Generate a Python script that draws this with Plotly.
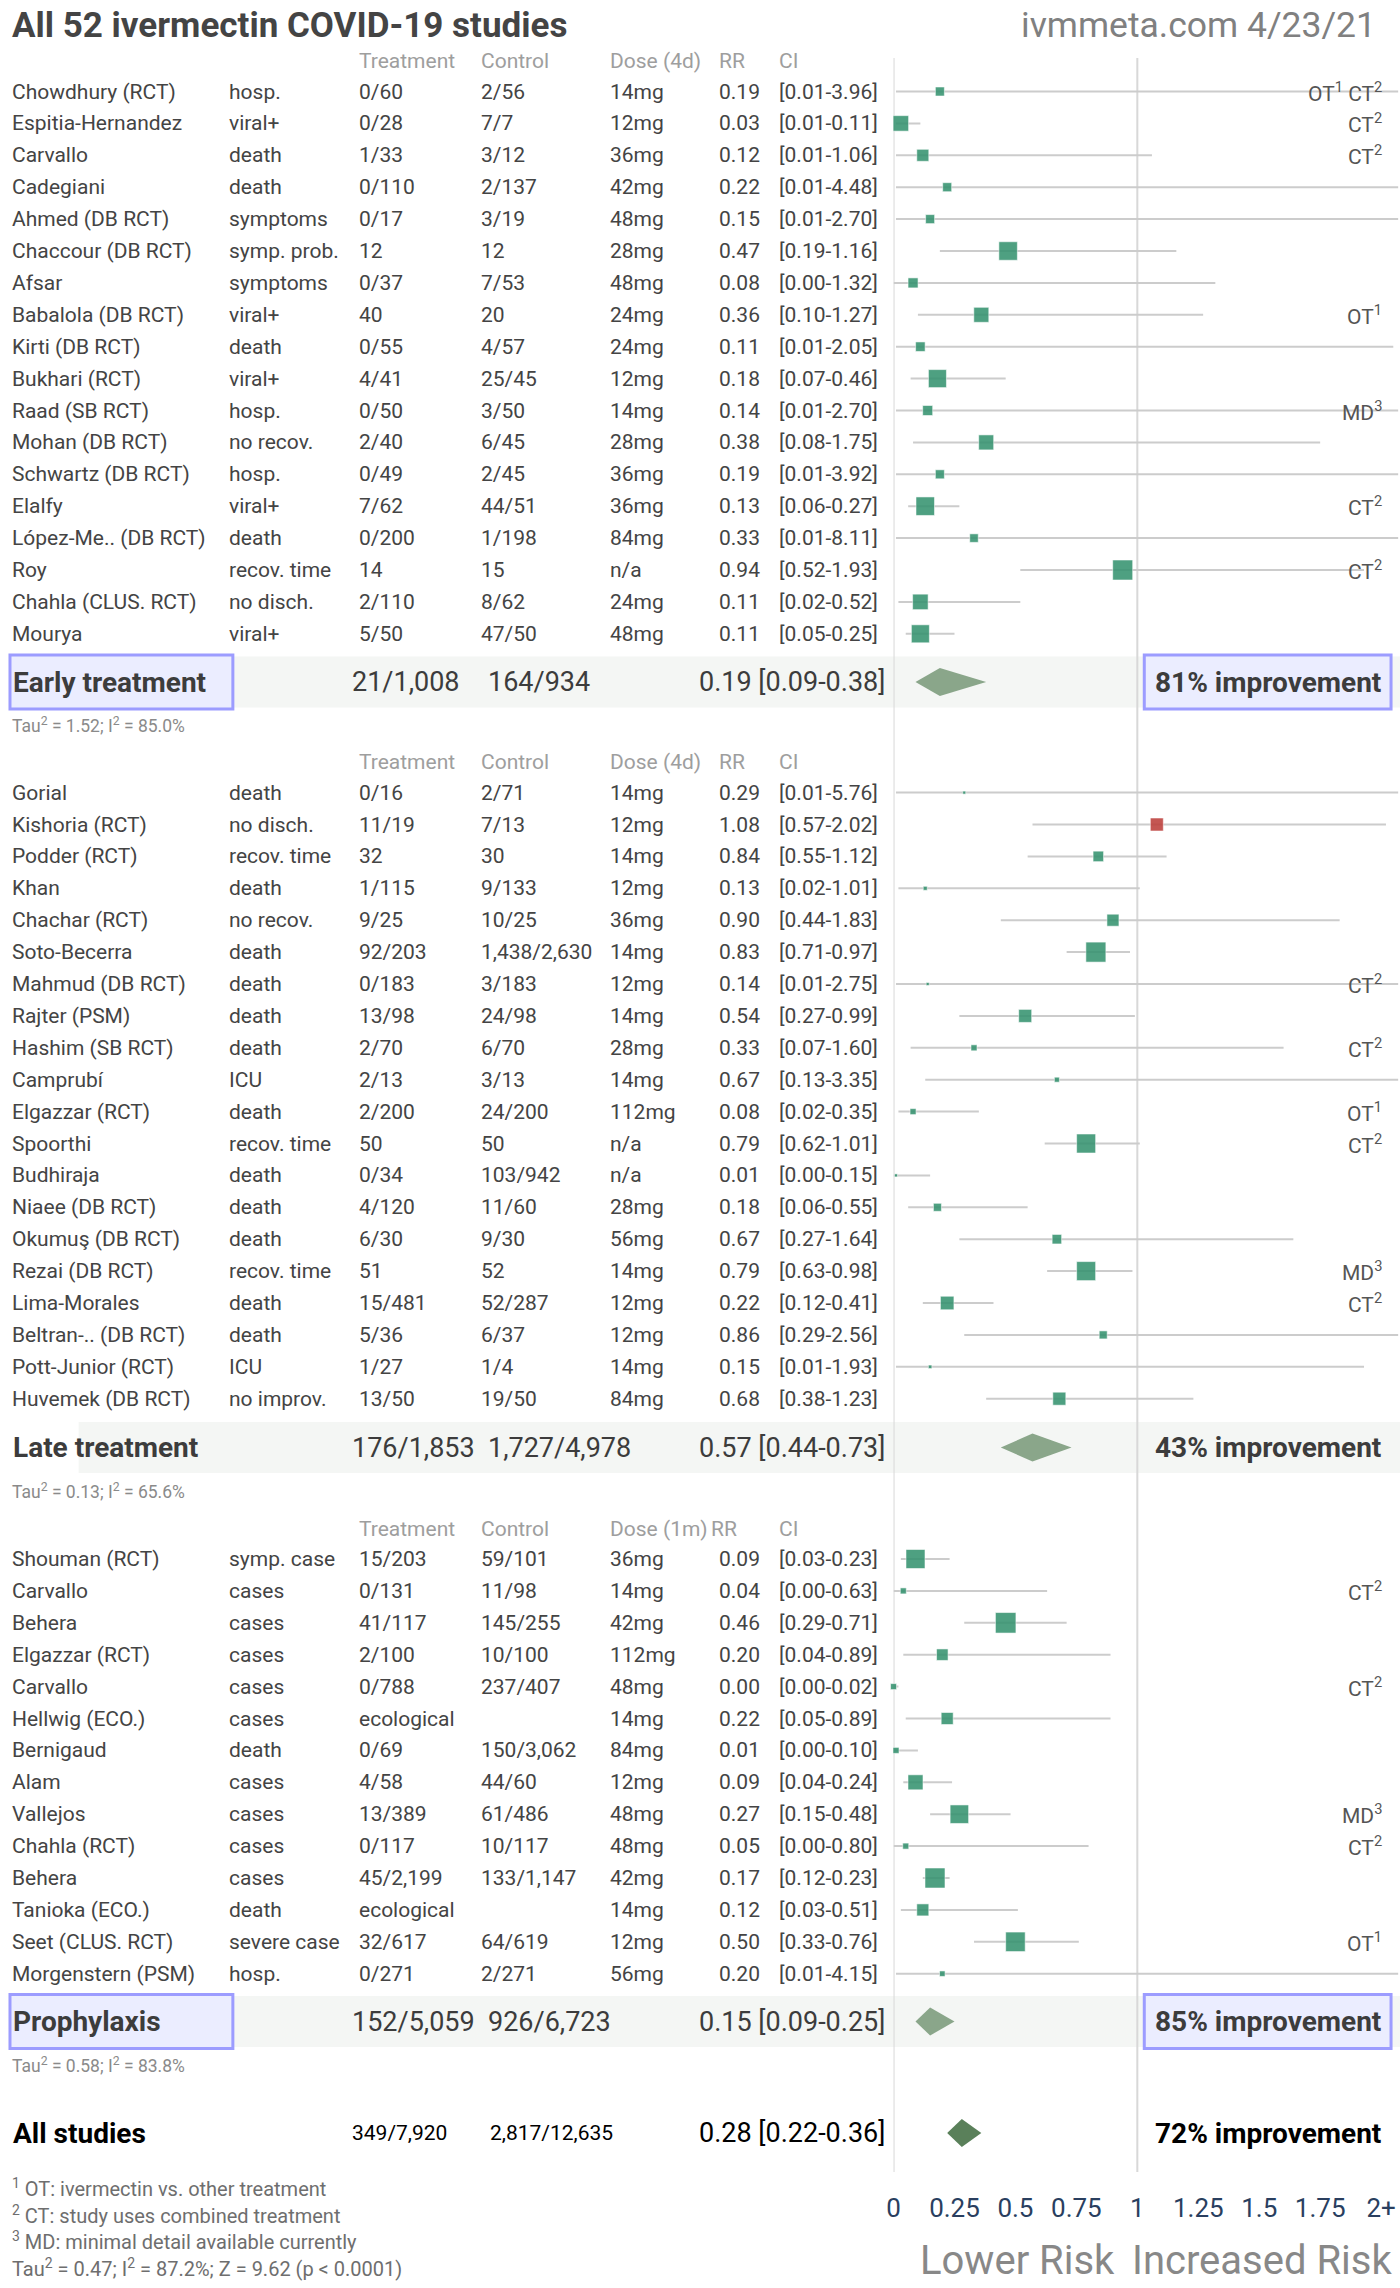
import plotly.graph_objects as go

W, H = 1400, 2288

# ---------------- data ----------------
early_names = ["Chowdhury (RCT)", "Espitia-Hernandez", "Carvallo", "Cadegiani", "Ahmed (DB RCT)",
               "Chaccour (DB RCT)", "Afsar", "Babalola (DB RCT)", "Kirti (DB RCT)", "Bukhari (RCT)",
               "Raad (SB RCT)", "Mohan (DB RCT)", "Schwartz (DB RCT)", "Elalfy", "López-Me.. (DB RCT)",
               "Roy", "Chahla (CLUS. RCT)", "Mourya"]
early_outcome = ["hosp.", "viral+", "death", "death", "symptoms", "symp. prob.", "symptoms", "viral+",
                 "death", "viral+", "hosp.", "no recov.", "hosp.", "viral+", "death", "recov. time",
                 "no disch.", "viral+"]
early_treat = ["0/60", "0/28", "1/33", "0/110", "0/17", "12", "0/37", "40", "0/55", "4/41", "0/50",
               "2/40", "0/49", "7/62", "0/200", "14", "2/110", "5/50"]
early_control = ["2/56", "7/7", "3/12", "2/137", "3/19", "12", "7/53", "20", "4/57", "25/45", "3/50",
                 "6/45", "2/45", "44/51", "1/198", "15", "8/62", "47/50"]
early_dose = ["14mg", "12mg", "36mg", "42mg", "48mg", "28mg", "48mg", "24mg", "24mg", "12mg", "14mg",
              "28mg", "36mg", "36mg", "84mg", "n/a", "24mg", "48mg"]
early_rr = [0.19, 0.03, 0.12, 0.22, 0.15, 0.47, 0.08, 0.36, 0.11, 0.18, 0.14, 0.38, 0.19, 0.13, 0.33,
            0.94, 0.11, 0.11]
early_lo = [0.01, 0.01, 0.01, 0.01, 0.01, 0.19, 0.00, 0.10, 0.01, 0.07, 0.01, 0.08, 0.01, 0.06, 0.01,
            0.52, 0.02, 0.05]
early_hi = [3.96, 0.11, 1.06, 4.48, 2.70, 1.16, 1.32, 1.27, 2.05, 0.46, 2.70, 1.75, 3.92, 0.27, 8.11,
            1.93, 0.52, 0.25]
early_weight = [9, 15.5, 12, 9, 9, 18.5, 10, 15, 9.5, 18, 10, 15, 9, 18.5, 8.5, 20, 15.5, 18]
early_notes = ["OT<sup>1</sup> CT<sup>2</sup>", "CT<sup>2</sup>", "CT<sup>2</sup>", "", "", "", "",
               "OT<sup>1</sup>", "", "", "MD<sup>3</sup>", "", "", "CT<sup>2</sup>", "",
               "CT<sup>2</sup>", "", ""]

late_names = ["Gorial", "Kishoria (RCT)", "Podder (RCT)", "Khan", "Chachar (RCT)", "Soto-Becerra",
              "Mahmud (DB RCT)", "Rajter (PSM)", "Hashim (SB RCT)", "Camprubí", "Elgazzar (RCT)",
              "Spoorthi", "Budhiraja", "Niaee (DB RCT)", "Okumuş (DB RCT)", "Rezai (DB RCT)",
              "Lima-Morales", "Beltran-.. (DB RCT)", "Pott-Junior (RCT)", "Huvemek (DB RCT)"]
late_outcome = ["death", "no disch.", "recov. time", "death", "no recov.", "death", "death", "death",
                "death", "ICU", "death", "recov. time", "death", "death", "death", "recov. time",
                "death", "death", "ICU", "no improv."]
late_treat = ["0/16", "11/19", "32", "1/115", "9/25", "92/203", "0/183", "13/98", "2/70", "2/13",
              "2/200", "50", "0/34", "4/120", "6/30", "51", "15/481", "5/36", "1/27", "13/50"]
late_control = ["2/71", "7/13", "30", "9/133", "10/25", "1,438/2,630", "3/183", "24/98", "6/70", "3/13",
                "24/200", "50", "103/942", "11/60", "9/30", "52", "52/287", "6/37", "1/4", "19/50"]
late_dose = ["14mg", "12mg", "14mg", "12mg", "36mg", "14mg", "12mg", "14mg", "28mg", "14mg", "112mg",
             "n/a", "n/a", "28mg", "56mg", "14mg", "12mg", "12mg", "14mg", "84mg"]
late_rr = [0.29, 1.08, 0.84, 0.13, 0.90, 0.83, 0.14, 0.54, 0.33, 0.67, 0.08, 0.79, 0.01, 0.18, 0.67,
           0.79, 0.22, 0.86, 0.15, 0.68]
late_lo = [0.01, 0.57, 0.55, 0.02, 0.44, 0.71, 0.01, 0.27, 0.07, 0.13, 0.02, 0.62, 0.00, 0.06, 0.27,
           0.63, 0.12, 0.29, 0.01, 0.38]
late_hi = [5.76, 2.02, 1.12, 1.01, 1.83, 0.97, 2.75, 0.99, 1.60, 3.35, 0.35, 1.01, 0.15, 0.55, 1.64,
           0.98, 0.41, 2.56, 1.93, 1.23]
late_weight = [3, 13, 10.5, 4, 12, 20, 3, 13, 6, 5, 6, 19, 3, 8, 9.5, 19, 13.5, 8, 3.5, 13]
late_notes = ["", "", "", "", "", "", "CT<sup>2</sup>", "", "CT<sup>2</sup>", "", "OT<sup>1</sup>",
              "CT<sup>2</sup>", "", "", "", "MD<sup>3</sup>", "CT<sup>2</sup>", "", "", ""]

proph_names = ["Shouman (RCT)", "Carvallo", "Behera", "Elgazzar (RCT)", "Carvallo", "Hellwig (ECO.)",
               "Bernigaud", "Alam", "Vallejos", "Chahla (RCT)", "Behera", "Tanioka (ECO.)",
               "Seet (CLUS. RCT)", "Morgenstern (PSM)"]
proph_outcome = ["symp. case", "cases", "cases", "cases", "cases", "cases", "death", "cases", "cases",
                 "cases", "cases", "death", "severe case", "hosp."]
proph_treat = ["15/203", "0/131", "41/117", "2/100", "0/788", "ecological", "0/69", "4/58", "13/389",
               "0/117", "45/2,199", "ecological", "32/617", "0/271"]
proph_control = ["59/101", "11/98", "145/255", "10/100", "237/407", "", "150/3,062", "44/60", "61/486",
                 "10/117", "133/1,147", "", "64/619", "2/271"]
proph_dose = ["36mg", "14mg", "42mg", "112mg", "48mg", "14mg", "84mg", "12mg", "48mg", "48mg", "42mg",
              "14mg", "12mg", "56mg"]
proph_rr = [0.09, 0.04, 0.46, 0.20, 0.00, 0.22, 0.01, 0.09, 0.27, 0.05, 0.17, 0.12, 0.50, 0.20]
proph_lo = [0.03, 0.00, 0.29, 0.04, 0.00, 0.05, 0.00, 0.04, 0.15, 0.00, 0.12, 0.03, 0.33, 0.01]
proph_hi = [0.23, 0.63, 0.71, 0.89, 0.02, 0.89, 0.10, 0.24, 0.48, 0.80, 0.23, 0.51, 0.76, 4.15]
proph_weight = [19, 6, 20.5, 11.5, 6, 12, 6, 15, 18.5, 6, 20, 12, 19.5, 5.5]
proph_notes = ["", "CT<sup>2</sup>", "", "", "CT<sup>2</sup>", "", "", "", "MD<sup>3</sup>",
               "CT<sup>2</sup>", "", "", "OT<sup>1</sup>", ""]

group_labels = ["Early treatment", "Late treatment", "Prophylaxis", "All studies"]
group_treat = ["21/1,008", "176/1,853", "152/5,059", "349/7,920"]
group_control = ["164/934", "1,727/4,978", "926/6,723", "2,817/12,635"]
group_rr = [0.19, 0.57, 0.15, 0.28]
group_lo = [0.09, 0.44, 0.09, 0.22]
group_hi = [0.38, 0.73, 0.25, 0.36]
group_improvement = ["81% improvement", "43% improvement", "85% improvement", "72% improvement"]
group_tau = ["Tau<sup>2</sup> = 1.52; I<sup>2</sup> = 85.0%",
             "Tau<sup>2</sup> = 0.13; I<sup>2</sup> = 65.6%",
             "Tau<sup>2</sup> = 0.58; I<sup>2</sup> = 83.8%",
             ""]

tick_vals = [0, 0.25, 0.5, 0.75, 1, 1.25, 1.5, 1.75, 2]
tick_text = ["0", "0.25", "0.5", "0.75", "1", "1.25", "1.5", "1.75", "2+"]

footnotes = ["<sup>1</sup> OT: ivermectin vs. other treatment",
             "<sup>2</sup> CT: study uses combined treatment",
             "<sup>3</sup> MD: minimal detail available currently",
             "Tau<sup>2</sup> = 0.47; I<sup>2</sup> = 87.2%; Z = 9.62 (p &lt; 0.0001)"]

# ---------------- layout constants ----------------
FONT = "Roboto"
TXT = "#444444"
HDR = "#9e9e9e"
GREEN = "#369370"
RED = "#bd3f3b"
ROW = 31.9
X0_PX, PX_PER_UNIT = 891, 245
XMAX = 2.07
AX_BOTTOM = 2190
LEFT_SHIFT = 8.5

COL = dict(name=12, outcome=230, treat=360, control=483, dose=613, rr=722, ci=782)

sections = [
    dict(names=early_names, outcome=early_outcome, treat=early_treat, control=early_control,
         dose=early_dose, rr=early_rr, lo=early_lo, hi=early_hi, w=early_weight, notes=early_notes,
         hdr_y=61, y0=91.5, dose_hdr="Dose (4d)", rr_hdr_x=722, sum_y=682, boxed=True),
    dict(names=late_names, outcome=late_outcome, treat=late_treat, control=late_control,
         dose=late_dose, rr=late_rr, lo=late_lo, hi=late_hi, w=late_weight, notes=late_notes,
         hdr_y=762, y0=792.6, dose_hdr="Dose (4d)", rr_hdr_x=722, sum_y=1447.5, boxed=False),
    dict(names=proph_names, outcome=proph_outcome, treat=proph_treat, control=proph_control,
         dose=proph_dose, rr=proph_rr, lo=proph_lo, hi=proph_hi, w=proph_weight, notes=proph_notes,
         hdr_y=1528.5, y0=1559, dose_hdr="Dose (1m)", rr_hdr_x=714, sum_y=2021.5, boxed=True),
]
ALL_Y = 2133

fig = go.Figure()
annotations = []
shapes = []


def ann(x, y, text, size=21, color=TXT, anchor="left", yref="y"):
    if not text:
        return
    if anchor == "left":
        x = x - LEFT_SHIFT
    annotations.append(dict(x=x / W, xref="paper", y=y if yref == "y" else 1 - y / H, yref=yref,
                            text=text, showarrow=False, xanchor=anchor, yanchor="middle",
                            font=dict(family=FONT, size=size, color=color)))


# title
ann(12, 25, "<b>All 52 ivermectin COVID-19 studies</b>", size=35, color="#444444")
ann(1378, 25, "ivmmeta.com 4/23/21", size=35.5, color="#808080", anchor="right")

# vertical reference lines
for v in (0, 1):
    shapes.append(dict(type="line", xref="x", yref="y", x0=v, x1=v, y0=58, y1=2172,
                       line=dict(color="#d8d8d8", width=2), layer="below"))

for gi, s in enumerate(sections):
    n = len(s["names"])
    ys = [s["y0"] + i * ROW for i in range(n)]
    # header
    hy = s["hdr_y"]
    ann(COL["treat"], hy, "Treatment", color=HDR)
    ann(COL["control"], hy, "Control", color=HDR)
    ann(COL["dose"], hy, s["dose_hdr"], color=HDR)
    ann(s["rr_hdr_x"], hy, "RR", color=HDR)
    ann(COL["ci"], hy, "CI", color=HDR)
    # rows
    for i in range(n):
        y = ys[i]
        ann(COL["name"], y, s["names"][i])
        ann(COL["outcome"], y, s["outcome"][i])
        ann(COL["treat"], y, s["treat"][i])
        ann(COL["control"], y, s["control"][i])
        ann(COL["dose"], y, s["dose"][i])
        ann(COL["rr"], y, f"{s['rr'][i]:.2f}")
        ann(COL["ci"], y, f"[{s['lo'][i]:.2f}-{s['hi'][i]:.2f}]")
        ann(1384, y, s["notes"][i], color="#555555", anchor="right")
    # CI lines
    lx, ly = [], []
    for i in range(n):
        lx += [s["lo"][i], s["hi"][i], None]
        ly += [ys[i], ys[i], None]
    fig.add_trace(go.Scatter(x=lx, y=ly, mode="lines", line=dict(color="#cccccc", width=2),
                             hoverinfo="skip", showlegend=False, cliponaxis=True))
    # squares
    fig.add_trace(go.Scatter(x=s["rr"], y=ys, mode="markers", showlegend=False, cliponaxis=False,
                             marker=dict(symbol="square", size=s["w"], opacity=0.88,
                                         color=[RED if r > 1 else GREEN for r in s["rr"]],
                                         line=dict(width=1, color="rgba(255,255,255,0.55)"))))
    # summary row
    sy = s["sum_y"]
    shapes.append(dict(type="rect", xref="paper", yref="y", x0=72 / W, x1=1.0, y0=sy - 25.5,
                       y1=sy + 25.5, fillcolor="#f4f6f4", line=dict(width=0), layer="below"))
    if s["boxed"]:
        for bx0, bx1 in ((3, 227), (1143, 1391)):
            shapes.append(dict(type="rect", xref="paper", yref="y", x0=bx0 / W, x1=bx1 / W,
                               y0=sy - 27, y1=sy + 27, fillcolor="#ebedff",
                               line=dict(color="#9c9cff", width=3), layer="below"))
    ann(13, sy, f"<b>{group_labels[gi]}</b>", size=28, color="#3c3c3c")
    ann(353, sy, group_treat[gi], size=27, color="#3c3c3c")
    ann(490, sy, group_control[gi], size=27, color="#3c3c3c")
    ann(884, sy, f"{group_rr[gi]:.2f} [{group_lo[gi]:.2f}-{group_hi[gi]:.2f}]", size=27,
        color="#3c3c3c", anchor="right")
    ann(1267, sy, f"<b>{group_improvement[gi]}</b>", size=28, color="#3c3c3c", anchor="center")
    ann(12, sy + 43, group_tau[gi], size=17.5, color="#8a8a8a")
    # diamond
    fig.add_trace(go.Scatter(x=[group_lo[gi], group_rr[gi], group_hi[gi], group_rr[gi], group_lo[gi]],
                             y=[sy, sy - 14, sy, sy + 14, sy], mode="lines", fill="toself",
                             fillcolor="#8aa68a", line=dict(width=0, color="#8aa68a"),
                             hoverinfo="skip", showlegend=False))

# all studies
ann(13, ALL_Y, f"<b>{group_labels[3]}</b>", size=28, color="#000000")
ann(353, ALL_Y, group_treat[3], size=21, color="#000000")
ann(492, ALL_Y, group_control[3], size=21, color="#000000")
ann(884, ALL_Y, f"{group_rr[3]:.2f} [{group_lo[3]:.2f}-{group_hi[3]:.2f}]", size=27,
    color="#000000", anchor="right")
ann(1267, ALL_Y, f"<b>{group_improvement[3]}</b>", size=28, color="#000000", anchor="center")
fig.add_trace(go.Scatter(x=[group_lo[3], group_rr[3], group_hi[3], group_rr[3], group_lo[3]],
                         y=[ALL_Y, ALL_Y - 14, ALL_Y, ALL_Y + 14, ALL_Y], mode="lines", fill="toself",
                         fillcolor="#5a805a", line=dict(width=0, color="#5a805a"),
                         hoverinfo="skip", showlegend=False))

# footnotes
for i, t in enumerate(footnotes):
    ann(12, 2188 + i * 26.7, t, size=20, color="#6e6e6e", yref="paper")

ann(1016, 2260, "Lower Risk", size=40, color="#888888", anchor="center", yref="paper")
ann(1261, 2260, "Increased Risk", size=40, color="#888888", anchor="center", yref="paper")

fig.update_layout(
    width=W, height=H, margin=dict(l=0, r=0, t=0, b=0),
    paper_bgcolor="white", plot_bgcolor="rgba(0,0,0,0)",
    font=dict(family=FONT, color=TXT),
    annotations=annotations, shapes=shapes, showlegend=False,
    xaxis=dict(range=[0, XMAX], domain=[X0_PX / W, (X0_PX + XMAX * PX_PER_UNIT) / W],
               tickvals=tick_vals, ticktext=tick_text, showgrid=False, zeroline=False,
               showline=False, ticks="", ticklen=0, anchor="free", position=1 - AX_BOTTOM / H,
               tickfont=dict(family=FONT, size=26, color="#2a3f5f"), fixedrange=True),
    yaxis=dict(range=[H, 0], domain=[0, 1], visible=False, fixedrange=True),
)

fig.write_html("out.html", config={"displayModeBar": False},
               post_script="document.body.style.margin='0px';document.body.style.padding='0px';")
